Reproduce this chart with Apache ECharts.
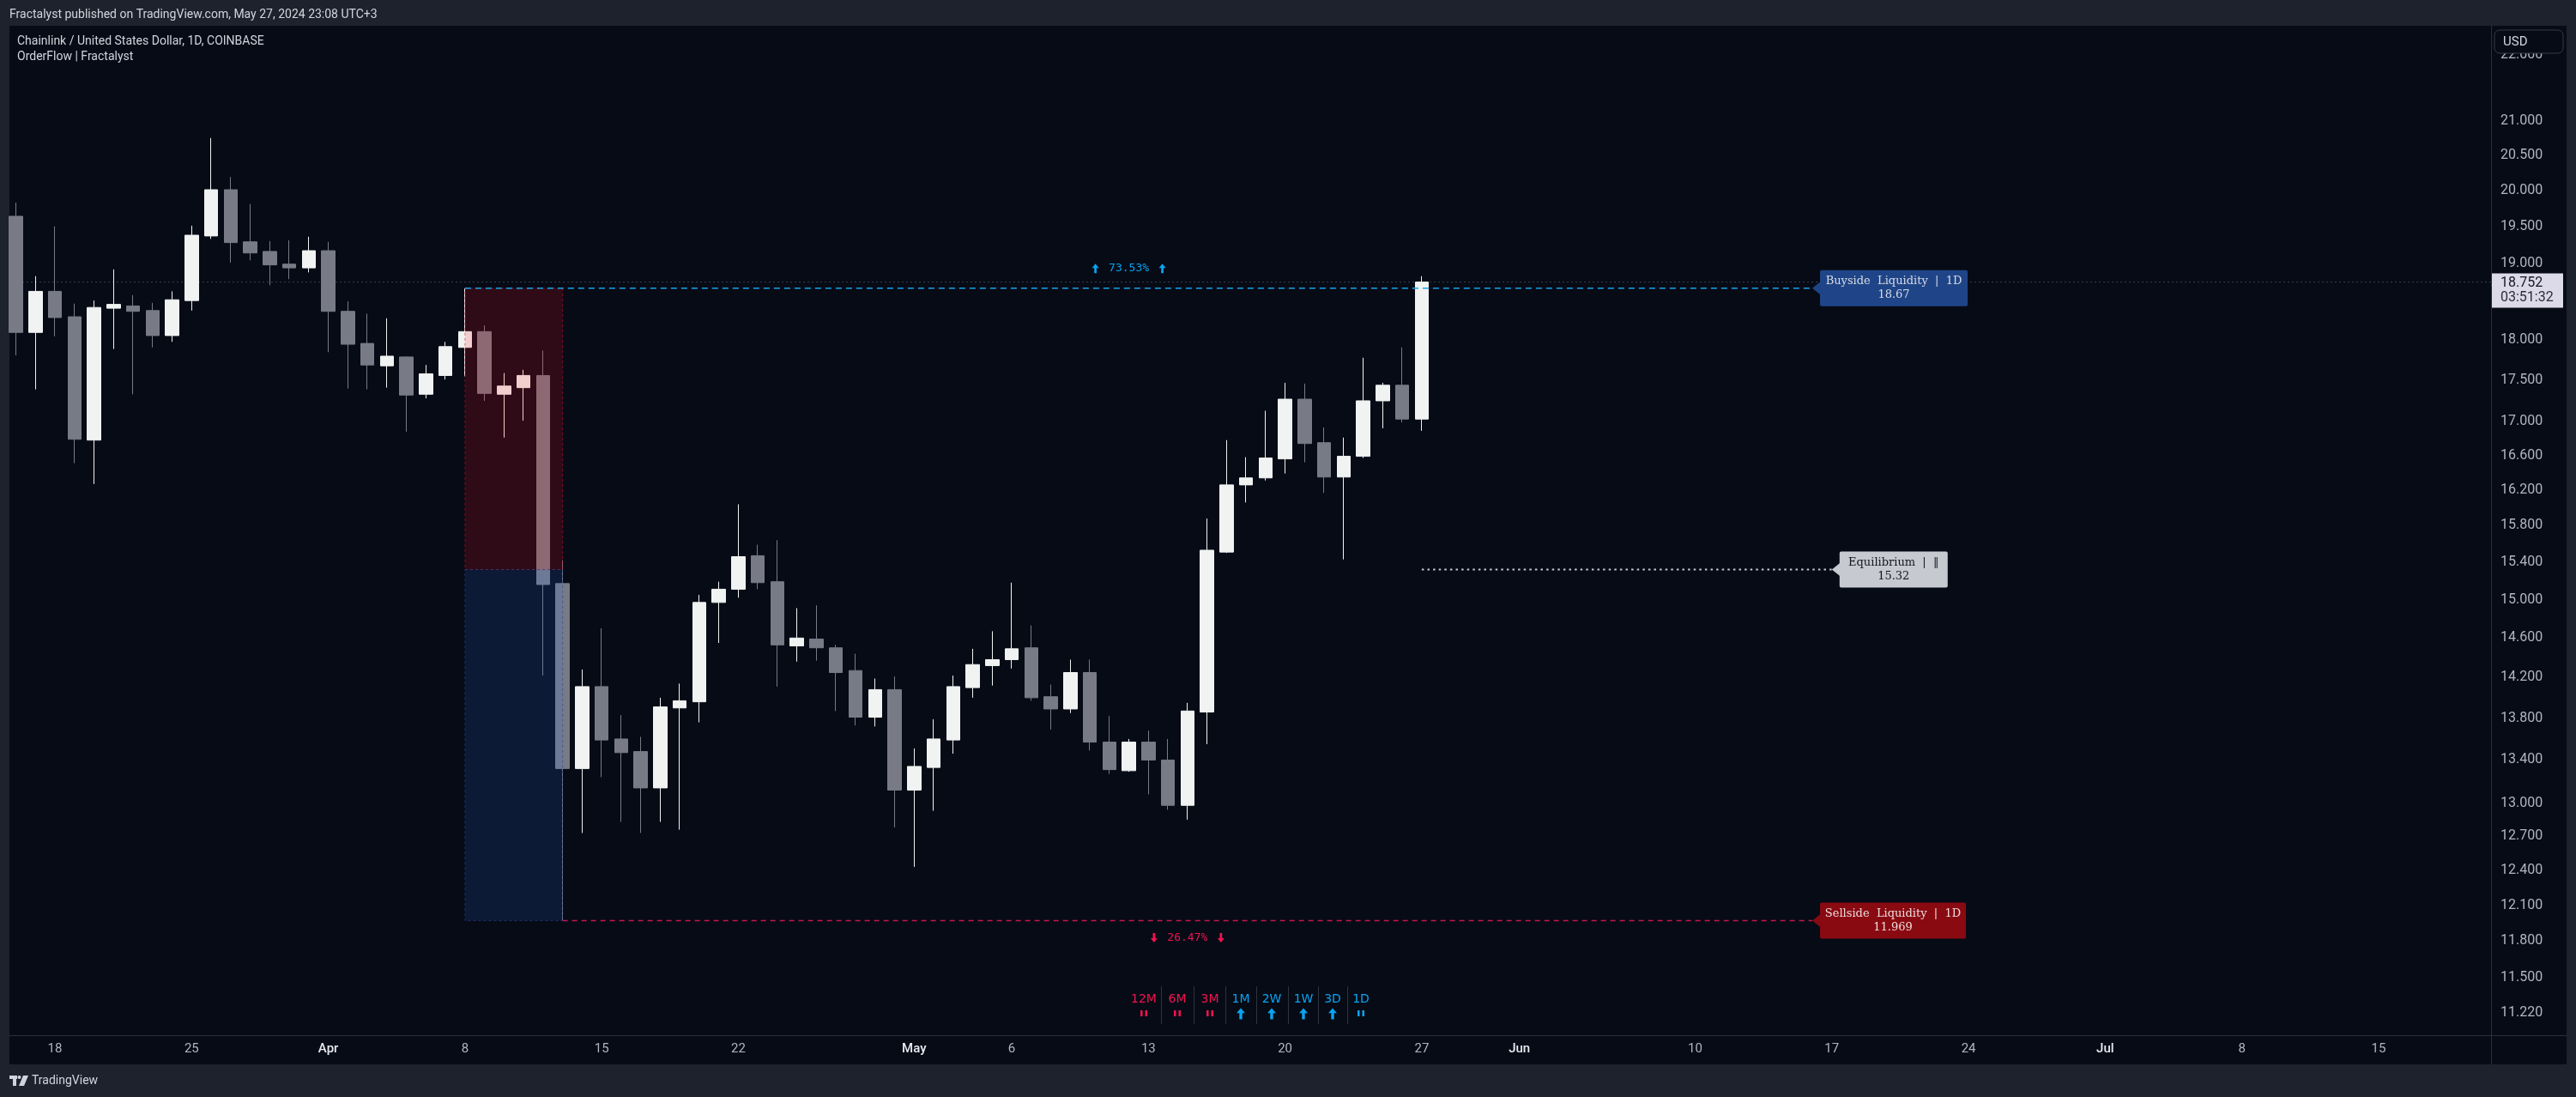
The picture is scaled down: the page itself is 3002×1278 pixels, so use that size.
<!DOCTYPE html>
<html>
<head>
<meta charset="utf-8">
<script src="https://cdn.jsdelivr.net/npm/echarts@6/dist/echarts.min.js"></script>
<style>
html,body{margin:0;padding:0;background:#1e222d;overflow:hidden;}
#chart{width:3002px;height:1278px;}
</style>
</head>
<body>
<div id="chart"></div>
<script>
// ---------------- DATA ----------------
const dates = [
 '2024-03-16','2024-03-17','2024-03-18','2024-03-19','2024-03-20','2024-03-21','2024-03-22','2024-03-23',
 '2024-03-24','2024-03-25','2024-03-26','2024-03-27','2024-03-28','2024-03-29','2024-03-30','2024-03-31',
 '2024-04-01','2024-04-02','2024-04-03','2024-04-04','2024-04-05','2024-04-06','2024-04-07','2024-04-08',
 '2024-04-09','2024-04-10','2024-04-11','2024-04-12','2024-04-13','2024-04-14','2024-04-15','2024-04-16',
 '2024-04-17','2024-04-18','2024-04-19','2024-04-20','2024-04-21','2024-04-22','2024-04-23','2024-04-24',
 '2024-04-25','2024-04-26','2024-04-27','2024-04-28','2024-04-29','2024-04-30',
 '2024-05-01','2024-05-02','2024-05-03','2024-05-04','2024-05-05','2024-05-06','2024-05-07','2024-05-08',
 '2024-05-09','2024-05-10','2024-05-11','2024-05-12','2024-05-13','2024-05-14','2024-05-15','2024-05-16',
 '2024-05-17','2024-05-18','2024-05-19','2024-05-20','2024-05-21','2024-05-22','2024-05-23','2024-05-24',
 '2024-05-25','2024-05-26','2024-05-27'
];
const open = [
 19.64,18.10,18.63,18.30,16.78,18.41,18.44,18.38,18.06,18.51,19.37,20.01,19.29,19.16,18.99,18.94,
 19.17,18.37,17.96,17.68,17.79,17.33,17.56,17.91,18.11,17.33,17.41,17.56,15.17,13.32,14.11,13.60,
 13.48,13.14,13.90,13.96,14.97,15.11,15.47,15.19,14.52,14.59,14.50,14.27,13.81,14.08,
 13.12,13.33,13.59,14.10,14.32,14.38,14.50,14.01,13.89,14.25,13.57,13.30,13.57,13.40,12.98,13.86,
 15.51,16.26,16.34,16.56,17.27,16.75,16.35,16.59,17.25,17.44,17.03
];
const high = [
 19.83,18.83,19.50,18.47,18.51,18.92,18.58,18.48,18.63,19.51,20.75,20.19,19.81,19.30,19.31,19.36,
 19.29,18.50,18.34,18.28,17.80,17.69,17.98,18.67,18.19,17.59,17.63,17.87,15.42,14.28,14.70,13.83,
 13.62,14.00,14.14,15.05,15.19,16.04,15.59,15.64,14.91,14.94,14.53,14.44,14.19,14.21,
 13.51,13.79,14.22,14.49,14.67,15.18,14.73,14.13,14.38,14.38,13.82,13.60,13.68,13.60,13.95,15.88,
 16.78,16.58,17.13,17.47,17.46,16.93,16.81,17.78,17.47,17.91,18.83
];
const low = [
 17.81,17.39,18.05,16.51,16.27,17.89,17.33,17.91,17.98,18.38,19.33,19.01,19.04,18.71,18.79,18.88,
 17.85,17.40,17.39,17.41,16.88,17.28,17.51,17.55,17.25,16.81,17.01,14.22,11.969,12.73,13.24,12.83,
 12.73,12.83,12.76,13.76,14.55,15.02,15.11,14.11,14.36,14.37,13.87,13.73,13.72,12.78,
 12.43,12.93,13.46,14.00,14.12,14.29,13.97,13.69,13.85,13.49,13.27,13.29,13.08,12.94,12.85,13.55,
 15.50,16.06,16.31,16.39,16.52,16.17,15.43,16.57,16.92,16.99,16.89
];
const close = [
 18.10,18.63,18.29,16.79,18.42,18.46,18.37,18.06,18.52,19.38,20.01,19.28,19.14,18.98,18.94,19.17,
 18.37,17.95,17.69,17.80,17.32,17.58,17.92,18.11,17.34,17.43,17.56,15.16,13.32,14.11,13.59,13.47,
 13.14,13.91,13.97,14.97,15.11,15.46,15.18,14.53,14.60,14.50,14.25,13.81,14.08,13.12,
 13.34,13.60,14.11,14.33,14.38,14.49,14.00,13.89,14.25,13.57,13.31,13.57,13.40,12.98,13.87,15.53,
 16.26,16.34,16.57,17.27,16.74,16.35,16.59,17.25,17.44,17.03,18.752
];

const yTicks = [22, 21, 20.5, 20, 19.5, 19, 18, 17.5, 17, 16.6, 16.2, 15.8, 15.4, 15, 14.6, 14.2, 13.8, 13.4, 13, 12.7, 12.4, 12.1, 11.8, 11.5, 11.22];
const xTickDates = ['2024-03-18','2024-03-25','2024-04-01','2024-04-08','2024-04-15','2024-04-22','2024-05-01','2024-05-06','2024-05-13','2024-05-20','2024-05-27','2024-06-01','2024-06-10','2024-06-17','2024-06-24','2024-07-01','2024-07-08','2024-07-15'];
const xTickLabels = ['18','25','Apr','8','15','22','May','6','13','20','27','Jun','10','17','24','Jul','8','15'];
const monthLabels = ['Apr','May','Jun','Jul'];

const buyside = 18.67, sellside = 11.969, equilibrium = 15.32, lastPrice = 18.752;
const zoneStart = '2024-04-08', zoneEnd = '2024-04-13';
const liqLabelDate = '2024-06-16', eqStart = '2024-05-27', eqLabelDate = '2024-06-17';
const pctTexts = ['73.53%', '26.47%'];
const pctUp = [true, false];
const tagLine1 = ['Buyside  Liquidity  |  1D', 'Sellside  Liquidity  |  1D', 'Equilibrium  |  \u2016'];
const tagLine2 = ['18.67', '11.969', '15.32'];
const tfNames = ['12M','6M','3M','1M','2W','1W','3D','1D'];
const tfState = ['pause','pause','pause','up','up','up','up','pause'];
const tfBull = [false,false,false,true,true,true,true,true];

// axis window (view range)
const viewStartDay = -2.33, viewEndDay = 124.76;   // days from 2024-03-18
const yMinPrice = 11.043, yMaxPrice = 22.455;

// ---------------- HELPERS ----------------
const BASE = Date.parse('2024-03-18');
const dayOf = s => (Date.parse(s) - BASE) / 86400000;
const L = Math.log;

const RED = '#f01450', BLUE = '#08a4f0';
const BULL = '#f0f3f2', BEAR = '#787b86';
const PANE = '#070b16', OUTER = '#1e222d', LINE = '#2a2e39';

function arrowPts(cx, cy, w, h, up) {
  const s = up ? 1 : -1, hh = h * 0.45, sw = Math.max(2.6, w * 0.34);
  const tipY = cy - s * h / 2, baseY = cy + s * h / 2, neckY = tipY + s * hh;
  return [[cx, tipY], [cx + w / 2, neckY], [cx + sw / 2, neckY], [cx + sw / 2, baseY],
          [cx - sw / 2, baseY], [cx - sw / 2, neckY], [cx - w / 2, neckY]];
}

const candleData = dates.map((d, i) => [dayOf(d), L(open[i]), L(close[i]), L(low[i]), L(high[i])]);
const xTickDays = xTickDates.map(dayOf);

const zoneData = [
  [dayOf(zoneStart), L(buyside), dayOf(zoneEnd), L(equilibrium)],
  [dayOf(zoneStart), L(equilibrium), dayOf(zoneEnd), L(sellside)]
];
const zoneFill = ['rgba(255,12,24,0.16)', 'rgba(45,120,255,0.14)'];
const zoneStroke = ['rgba(200,20,50,0.55)', 'rgba(40,70,140,0.6)'];

const tagData = [
  [dayOf(liqLabelDate), L(buyside)],
  [dayOf(liqLabelDate), L(sellside)],
  [dayOf(eqLabelDate), L(equilibrium)]
];
const tagFill = ['#1f4588', '#8a0a12', '#c7c9d1'];
const tagTextColor = ['#d8dae2', '#ecdcdc', '#14161e'];
const tagWidth = [172, 170, 126];

const pctData = [
  [Math.floor((dayOf(zoneStart) + dayOf(liqLabelDate)) / 2), L(buyside)],
  [Math.floor((dayOf(zoneEnd) + dayOf(liqLabelDate)) / 2), L(sellside)]
];
const pctColor = [BLUE, RED];
const pctDy = [-23, 20];

function lineSeries(data, color, width, dash, z) {
  return {
    type: 'line', data: data, symbol: 'none', silent: true, z: z || 4,
    lineStyle: { color: color, width: width, type: dash, cap: 'butt' },
    animation: false
  };
}

// ---------------- CHART ----------------
const chart = echarts.init(document.getElementById('chart'), null, { renderer: 'canvas' });

const graphics = [
  { type: 'rect', z: -10, shape: { x: 11, y: 30, width: 2980, height: 1210 }, style: { fill: PANE } },
  { type: 'line', z: 20, shape: { x1: 2903.5, y1: 30, x2: 2903.5, y2: 1240 }, style: { stroke: LINE, lineWidth: 1 } },
  { type: 'line', z: 20, shape: { x1: 11, y1: 1206.5, x2: 2991, y2: 1206.5 }, style: { stroke: LINE, lineWidth: 1 } },
  { type: 'text', z: 20, style: { x: 11, y: 17, text: 'Fractalyst published on TradingView.com, May 27, 2024 23:08 UTC+3', fill: '#d1d4dc', fontSize: 14, fontFamily: 'Roboto', verticalAlign: 'middle' } },
  { type: 'text', z: 20, style: { x: 20, y: 48, text: 'Chainlink / United States Dollar, 1D, COINBASE', fill: '#d1d4dc', fontSize: 14, fontFamily: 'Roboto', verticalAlign: 'middle' } },
  { type: 'text', z: 20, style: { x: 20, y: 66, text: 'OrderFlow | Fractalyst', fill: '#d1d4dc', fontSize: 14, fontFamily: 'Roboto', verticalAlign: 'middle' } },
  { type: 'rect', z: 30, shape: { x: 2907, y: 35, width: 80, height: 27, r: 6 }, style: { fill: PANE, stroke: '#363a45', lineWidth: 1 } },
  { type: 'text', z: 31, style: { x: 2917, y: 49, text: 'USD', fill: '#d1d4dc', fontSize: 15, fontFamily: 'Roboto', verticalAlign: 'middle' } },
  // footer logo
  { type: 'rect', z: 20, shape: { x: 11, y: 1253, width: 9, height: 4 }, style: { fill: '#d1d4dc' } },
  { type: 'rect', z: 20, shape: { x: 15, y: 1253, width: 4, height: 12 }, style: { fill: '#d1d4dc' } },
  { type: 'circle', z: 20, shape: { cx: 22.5, cy: 1255, r: 2 }, style: { fill: '#d1d4dc' } },
  { type: 'polygon', z: 20, shape: { points: [[27, 1253], [33, 1253], [28, 1265], [22, 1265]] }, style: { fill: '#d1d4dc' } },
  { type: 'text', z: 20, style: { x: 37, y: 1259, text: 'TradingView', fill: '#d1d4dc', fontSize: 14, fontFamily: 'Roboto', verticalAlign: 'middle' } }
];

// timeframe table (bottom centre)
const tfCenters = [1333, 1372, 1410, 1446, 1482, 1519, 1553, 1586];
tfNames.forEach((n, i) => {
  const col = tfBull[i] ? BLUE : RED;
  const cx = tfCenters[i];
  graphics.push({ type: 'text', z: 20, style: { x: cx, y: 1164, text: n, fill: col, fontSize: 14, fontFamily: 'DejaVu Sans', align: 'center', verticalAlign: 'middle' } });
  if (tfState[i] === 'up') {
    graphics.push({ type: 'polygon', z: 20, shape: { points: arrowPts(cx, 1181, 10, 13, true) }, style: { fill: col } });
  } else {
    graphics.push({ type: 'rect', z: 20, shape: { x: cx - 4, y: 1177, width: 2.5, height: 7 }, style: { fill: col } });
    graphics.push({ type: 'rect', z: 20, shape: { x: cx + 1.5, y: 1177, width: 2.5, height: 7 }, style: { fill: col } });
  }
  if (i > 0) {
    const sx = Math.round((tfCenters[i - 1] + tfCenters[i]) / 2) + 0.5;
    graphics.push({ type: 'line', z: 20, shape: { x1: sx, y1: 1149, x2: sx, y2: 1193 }, style: { stroke: '#2f333e', lineWidth: 1 } });
  }
});

const option = {
  backgroundColor: OUTER,
  animation: false,
  grid: { left: 11, right: 99, top: 30, bottom: 72, containLabel: false, outerBoundsMode: 'none' },
  xAxis: {
    type: 'value', min: viewStartDay, max: viewEndDay,
    axisLine: { show: false }, axisTick: { show: false }, splitLine: { show: false },
    axisLabel: {
      customValues: xTickDays,
      margin: 9, color: '#b2b5be', fontSize: 15, fontFamily: 'Roboto',
      formatter: function (v) {
        let idx = -1;
        for (let k = 0; k < xTickDays.length; k++) if (Math.abs(xTickDays[k] - v) < 0.01) idx = k;
        if (idx < 0) return '';
        const lab = xTickLabels[idx];
        return monthLabels.indexOf(lab) >= 0 ? '{m|' + lab + '}' : lab;
      },
      rich: { m: { color: '#e8eaf0', fontSize: 15, fontFamily: 'Roboto', fontWeight: 500 } }
    }
  },
  yAxis: {
    type: 'value', position: 'right', min: L(yMinPrice), max: L(yMaxPrice), scale: true,
    axisLine: { show: false }, axisTick: { show: false }, splitLine: { show: false },
    axisLabel: {
      customValues: yTicks.map(L),
      formatter: v => Math.exp(v).toFixed(3),
      color: '#b2b5be', fontSize: 16, fontFamily: 'Roboto', margin: 11
    }
  },
  graphic: graphics,
  series: [
    // current price dotted line
    lineSeries([[viewStartDay, L(lastPrice)], [viewEndDay, L(lastPrice)]], '#3a3e4a', 1, [2, 3], 1),
    {
      type: 'candlestick', z: 2, data: candleData, barWidth: 16, silent: true, animation: false,
      itemStyle: { color: BULL, color0: BEAR, borderColor: BULL, borderColor0: BEAR, borderColorDoji: BULL, borderWidth: 1 }
    },
    {
      type: 'custom', z: 3, silent: true, animation: false, data: zoneData,
      encode: { x: [0, 2], y: [1, 3] },
      renderItem: function (params, api) {
        const a = api.coord([api.value(0), api.value(1)]);
        const b = api.coord([api.value(2), api.value(3)]);
        const k = params.dataIndex;
        return { type: 'rect', shape: { x: a[0], y: a[1], width: b[0] - a[0], height: b[1] - a[1] },
          style: { fill: zoneFill[k], stroke: zoneStroke[k], lineWidth: 1, lineDash: [3, 3] } };
      }
    },
    lineSeries([[dayOf(zoneStart), L(buyside)], [dayOf(liqLabelDate), L(buyside)]], '#17a3ea', 1.5, [7, 5], 4),
    lineSeries([[dayOf(zoneEnd), L(sellside)], [dayOf(liqLabelDate), L(sellside)]], '#c3164c', 1.5, [6, 5], 4),
    lineSeries([[dayOf(eqStart), L(equilibrium)], [dayOf(eqLabelDate), L(equilibrium)]], '#c8cad3', 2, [2.5, 4.1], 4),
    {
      type: 'custom', z: 6, silent: true, animation: false, data: tagData,
      encode: { x: 0, y: 1 },
      renderItem: function (params, api) {
        const i = params.dataIndex;
        const p = api.coord([api.value(0), api.value(1)]);
        const w = tagWidth[i], h = 42, t = 9, x0 = p[0] + t;
        const font = { fontSize: 13, fontFamily: '"DejaVu Serif"', fill: tagTextColor[i], align: 'center', verticalAlign: 'middle' };
        return { type: 'group', children: [
          { type: 'polygon', shape: { points: [[p[0], p[1]], [x0 + 1, p[1] - 8], [x0 + 1, p[1] + 8]] }, style: { fill: tagFill[i] } },
          { type: 'rect', shape: { x: x0, y: p[1] - h / 2, width: w, height: h, r: 2 }, style: { fill: tagFill[i] } },
          { type: 'text', style: Object.assign({ x: x0 + w / 2, y: p[1] - 8, text: tagLine1[i] }, font) },
          { type: 'text', style: Object.assign({ x: x0 + w / 2, y: p[1] + 8, text: tagLine2[i] }, font) }
        ] };
      }
    },
    {
      type: 'custom', z: 6, silent: true, animation: false, data: pctData,
      encode: { x: 0, y: 1 },
      renderItem: function (params, api) {
        const i = params.dataIndex;
        const p = api.coord([api.value(0), api.value(1)]);
        const cy = p[1] + pctDy[i];
        return { type: 'group', children: [
          { type: 'text', style: { x: p[0], y: cy, text: pctTexts[i], fill: pctColor[i],
            fontSize: 13, fontFamily: '"DejaVu Sans Mono"', align: 'center', verticalAlign: 'middle' } },
          { type: 'polygon', shape: { points: arrowPts(p[0] - 39, cy, 8, 11, pctUp[i]) }, style: { fill: pctColor[i] } },
          { type: 'polygon', shape: { points: arrowPts(p[0] + 39, cy, 8, 11, pctUp[i]) }, style: { fill: pctColor[i] } }
        ] };
      }
    },
    {
      // last price tag on the price scale
      type: 'custom', z: 7, silent: true, animation: false, data: [[viewEndDay, L(lastPrice)]],
      encode: { x: 0, y: 1 },
      renderItem: function (params, api) {
        const p = api.coord([api.value(0), api.value(1)]);
        return { type: 'group', children: [
          { type: 'rect', shape: { x: p[0], y: p[1] - 10, width: 84, height: 40 }, style: { fill: '#dcd9e8' } },
          { type: 'text', style: { x: p[0] + 11, y: p[1] + 1, text: lastPrice.toFixed(3), fill: '#131722', fontSize: 16, fontFamily: 'Roboto', verticalAlign: 'middle' } },
          { type: 'text', style: { x: p[0] + 11, y: p[1] + 18, text: '03:51:32', fill: '#2a2e39', fontSize: 16, fontFamily: 'Roboto', verticalAlign: 'middle' } }
        ] };
      }
    }
  ]
};
chart.setOption(option);
</script>
</body>
</html>
